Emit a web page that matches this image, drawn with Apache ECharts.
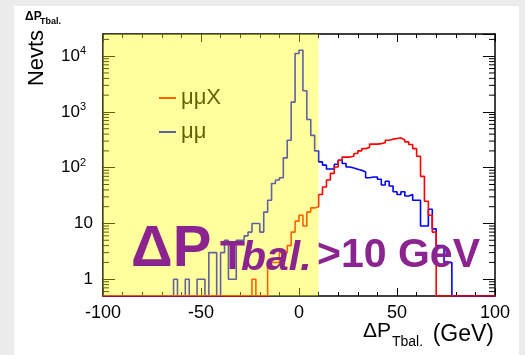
<!DOCTYPE html>
<html><head><meta charset="utf-8">
<script src="https://cdn.jsdelivr.net/npm/echarts@6/dist/echarts.min.js"></script>
<style>html,body{margin:0;padding:0;background:#fff}#c{width:525px;height:355px}</style>
</head><body><div id="c"></div>
<script>
// ---- data ----
const X_MIN = -100, X_MAX = 100, BIN_WIDTH = 2;
const Y_MIN = 0.5, Y_MAX = 25000;
const xTickInterval = 50;
const shadedRange = [-100, 10];
const seriesNames = ['μμX', 'μμ'];
// counts per 2-GeV bin, first bin starts at -100
const countsMuMuX = [
  0,0,0,0,0,0,0,0,0,0,
  0,0,0,0,0,0,0,0,0,0,
  0,0,0,0,0,0,0,0,0,0,
  0,0,0,0,0,0,0,0,1,0,
  0,0,2,2,2,3,3,4,7,11,
  14,9,16,19,20,33,45,60,79,103,
  136,155,155,160,180,200,220,230,265,265,
  270,280,310,325,333,340,315,290,260,220,
  160,70,25,14,7,0,0,0,0,0,
  0,0,0,0,0,0,0,0,0,0
];
const countsMuMu = [
  0,0,0,0,0,0,0,0,0,0,
  0,0,0,0,0,0,0,0,1,0,
  0,1,0,0,1,1,0,3,3,0,
  3,5,1,1,5,5,6,7,10,10,
  7,16,26,52,60,66,150,310,1500,11200,
  12800,2400,730,380,200,127,111,95,95,115,
  136,119,103,99,94,90,84,66,68,68,
  62,49,57,47,37,33,37,31,33,26,
  26,9,9,18,8,4,4,2,2,0,
  0,0,0,0,0,0,0,0,0,0
];

function stepData(counts) {
  const pts = counts.map((c, i) => [X_MIN + i * BIN_WIDTH, Math.max(c, Y_MIN)]);
  pts.push([X_MAX, Math.max(counts[counts.length - 1], Y_MIN)]);
  return pts;
}
// minor log ticks (2..9 x 10^k) inside the axis range
const minorLogTicks = [];
for (let k = -1; k <= 4; k++) for (let m = 2; m <= 9; m++) {
  const v = m * Math.pow(10, k);
  if (v > Y_MIN && v < Y_MAX) minorLogTicks.push([X_MIN, v]);
}

const FONT = 'Liberation Sans, Arial, Helvetica, sans-serif';
const PURPLE = '#8c2490';

const chart = echarts.init(document.getElementById('c'), null, {renderer: 'canvas'});

const xAxisBase = {
  type: 'value', min: X_MIN, max: X_MAX, interval: xTickInterval,
  axisLine: {show: true, onZero: false, lineStyle: {color: '#000', width: 1.5}},
  axisTick: {show: true, inside: true, length: 8, lineStyle: {color: '#000', width: 1}},
  minorTick: {show: true, splitNumber: 5, length: 4, lineStyle: {color: '#000', width: 1}},
  splitLine: {show: false}
};
const yAxisBase = {
  type: 'log', logBase: 10, min: Y_MIN, max: Y_MAX,
  axisLine: {show: true, onZero: false, lineStyle: {color: '#000', width: 1.5}},
  axisTick: {show: true, inside: true, length: 12, lineStyle: {color: '#000', width: 1}},
  splitLine: {show: false}
};

const option = {
  backgroundColor: '#ffffff',
  animation: false,
  grid: {left: 103, right: 30, top: 34, bottom: 59, containLabel: false},
  legend: {
    show: true, orient: 'vertical', left: 154, top: 82, z: 3,
    selectedMode: false, icon: 'rect', itemWidth: 17, itemHeight: 2, itemGap: 12,
    textStyle: {fontFamily: FONT, fontSize: 22, color: '#000', padding: [0, 0, 0, 0]},
    data: seriesNames
  },
  xAxis: [
    Object.assign({}, xAxisBase, {position: 'bottom',
      axisLabel: {show: true, margin: 8, fontFamily: FONT, fontSize: 18, color: '#000'}}),
    Object.assign({}, xAxisBase, {position: 'top', axisLabel: {show: false}})
  ],
  yAxis: [
    Object.assign({}, yAxisBase, {position: 'left',
      axisLabel: {
        show: true, margin: 10, showMinLabel: false, showMaxLabel: false,
        fontFamily: FONT, fontSize: 17, color: '#000',
        formatter: function (v) {
          const e = Math.round(Math.log10(v));
          if (e === 0) return '1';
          if (e === 1) return '10';
          return '{b|10}{s|' + e + '}';
        },
        rich: {
          b: {fontFamily: FONT, fontSize: 17, color: '#000'},
          s: {fontFamily: FONT, fontSize: 11, color: '#000', verticalAlign: 'top', padding: [0, 7, 10, 0]}
        }
      }}),
    Object.assign({}, yAxisBase, {position: 'right', axisLabel: {show: false}})
  ],
  series: [
    {
      name: seriesNames[1], type: 'line', step: 'end', data: stepData(countsMuMu),
      xAxisIndex: 0, yAxisIndex: 0, symbol: 'none', z: 2,
      lineStyle: {color: '#0000ff', width: 1.6}, itemStyle: {color: '#0000ff'}
    },
    {
      name: seriesNames[0], type: 'line', step: 'end', data: stepData(countsMuMuX),
      xAxisIndex: 0, yAxisIndex: 0, symbol: 'none', z: 2,
      lineStyle: {color: '#ff0000', width: 1.6}, itemStyle: {color: '#ff0000'}
    },
    {
      // minor log ticks on left and right frame
      type: 'custom', silent: true, z: 2, xAxisIndex: 0, yAxisIndex: 0,
      data: minorLogTicks, clip: false,
      renderItem: function (params, api) {
        const v = api.value(1);
        const pL = api.coord([X_MIN, v]);
        const pR = api.coord([X_MAX, v]);
        return {type: 'group', children: [
          {type: 'line', shape: {x1: pL[0], y1: pL[1], x2: pL[0] + 6, y2: pL[1]}, style: {stroke: '#000', lineWidth: 1}},
          {type: 'line', shape: {x1: pR[0], y1: pR[1], x2: pR[0] - 6, y2: pR[1]}, style: {stroke: '#000', lineWidth: 1}}
        ]};
      }
    },
    {
      // translucent yellow band
      type: 'custom', silent: true, z: 10, xAxisIndex: 0, yAxisIndex: 0,
      data: [[shadedRange[0], shadedRange[1]]], clip: false,
      encode: {x: [0, 1]},
      renderItem: function (params, api) {
        const p1 = api.coord([api.value(0), Y_MAX]);
        const p2 = api.coord([api.value(1), Y_MIN]);
        return {type: 'rect', shape: {x: p1[0], y: p1[1], width: p2[0] - p1[0], height: p2[1] - p1[1]},
          style: {fill: 'rgba(255,255,0,0.38)'}};
      }
    }
  ],
  graphic: [
    {type: 'rect', z: 200, shape: {x: 0, y: 0, width: 14, height: 355}, style: {fill: '#ececec'}},
    {type: 'rect', z: 200, shape: {x: 0, y: 0, width: 525, height: 6}, style: {fill: '#ececec'}},
    {type: 'rect', z: 200, shape: {x: 519, y: 0, width: 6, height: 355}, style: {fill: '#ececec'}},
    // small title
    {type: 'text', z: 100, x: 25, y: 17, style: {text: 'ΔP', font: 'bold 12px ' + FONT, fill: '#000', align: 'left', verticalAlign: 'middle'}},
    {type: 'text', z: 100, x: 40, y: 22, style: {text: 'Tbal.', font: 'bold 9px ' + FONT, fill: '#000', align: 'left', verticalAlign: 'middle'}},
    // y title
    {type: 'text', z: 100, x: 37, y: 58, rotation: Math.PI / 2,
      style: {text: 'Nevts', font: '22px ' + FONT, fill: '#000', align: 'center', verticalAlign: 'middle'}},
    // x title
    {type: 'text', z: 100, x: 363, y: 331, style: {text: 'ΔP', font: '21px ' + FONT, fill: '#000', align: 'left', verticalAlign: 'middle'}},
    {type: 'text', z: 100, x: 392, y: 342, style: {text: 'Tbal.', font: '14px ' + FONT, fill: '#000', align: 'left', verticalAlign: 'middle'}},
    {type: 'text', z: 100, x: 494, y: 335, style: {text: '(GeV)', font: '23px ' + FONT, fill: '#000', align: 'right', verticalAlign: 'middle'}},
    // big label
    {type: 'text', z: 100, x: 131, y: 250, style: {text: 'ΔP', font: 'bold 58px ' + FONT, fill: PURPLE, align: 'left', verticalAlign: 'middle'}},
    {type: 'text', z: 100, x: 220, y: 258, style: {text: 'T', font: 'bold 41px ' + FONT, fill: PURPLE, align: 'left', verticalAlign: 'middle'}},
    {type: 'text', z: 100, x: 241, y: 259, style: {text: 'bal.', font: 'italic bold 41px ' + FONT, fill: PURPLE, align: 'left', verticalAlign: 'middle'}},
    {type: 'text', z: 100, x: 317, y: 256, style: {text: '>10 GeV', font: 'bold 41px ' + FONT, fill: PURPLE, align: 'left', verticalAlign: 'middle'}}
  ]
};
chart.setOption(option);
</script>
</body></html>
